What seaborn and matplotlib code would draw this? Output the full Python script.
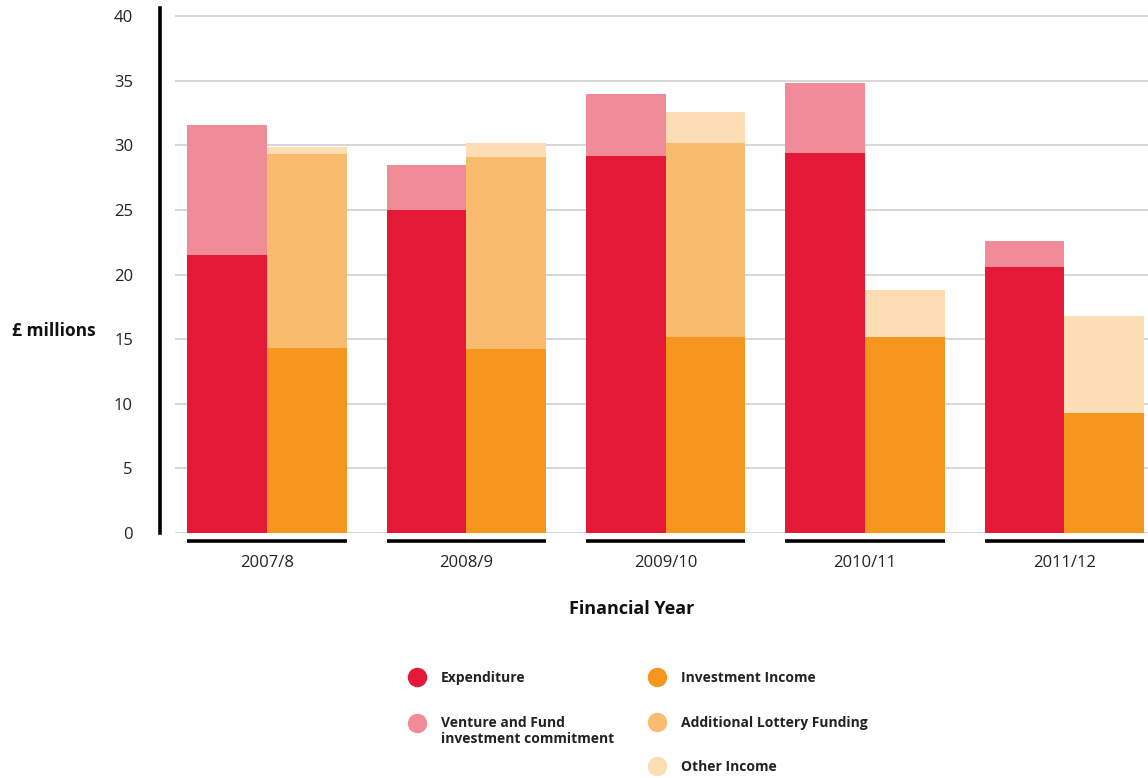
import matplotlib
matplotlib.use("Agg")
import matplotlib.pyplot as plt
import matplotlib.transforms as mtransforms
from matplotlib.lines import Line2D
import seaborn as sns
import pandas as pd

# ---- data ----
years = ["2007/8", "2008/9", "2009/10", "2010/11", "2011/12"]
expenditure = [21.5, 25.0, 29.2, 29.4, 20.6]
venture_commitment = [10.1, 3.5, 4.8, 5.4, 2.0]
investment_income = [14.3, 14.2, 15.2, 15.2, 9.3]
lottery_funding = [15.0, 14.9, 15.0, 0.0, 0.0]
other_income = [0.6, 1.1, 2.4, 3.6, 7.5]
y_ticks = [0, 5, 10, 15, 20, 25, 30, 35, 40]

# ---- colours ----
C_EXP = "#E31937"
C_VEN = "#F08C98"
C_INV = "#F7961E"
C_LOT = "#F9BC6E"
C_OTH = "#FCDDB4"

sns.set_theme(style="white")
plt.rcParams["font.family"] = ["Open Sans", "DejaVu Sans"]

fig = plt.figure(figsize=(11.48, 7.78), dpi=100)
ax = fig.add_axes([175 / 1148, (778 - 533) / 778, (1148 - 175) / 1148, (533 - 8) / 778])

sides = ["Spending", "Income"]


def layer(spend_vals, income_vals):
    rows = []
    for i, y in enumerate(years):
        rows.append({"year": y, "side": "Spending", "value": spend_vals[i]})
        rows.append({"year": y, "side": "Income", "value": income_vals[i]})
    return pd.DataFrame(rows)


spend_total = [e + v for e, v in zip(expenditure, venture_commitment)]
inc_mid = [a + b for a, b in zip(investment_income, lottery_funding)]
inc_total = [m + o for m, o in zip(inc_mid, other_income)]

layers = [
    (layer(spend_total, inc_total), {"Spending": C_VEN, "Income": C_OTH}),
    (layer(expenditure, inc_mid), {"Spending": C_EXP, "Income": C_LOT}),
    (layer([0.0] * len(years), investment_income), {"Spending": C_EXP, "Income": C_INV}),
]
for df, pal in layers:
    sns.barplot(data=df, x="year", y="value", hue="side", hue_order=sides,
                order=years, palette=pal, dodge=True, width=0.8, saturation=1,
                errorbar=None, legend=False, linewidth=0, ax=ax)

ax.set_ylim(0, 40.62)
ax.set_xlim(-0.4616, 4.42)
ax.set_yticks(y_ticks)
ax.set_yticklabels([str(t) for t in y_ticks])
ax.yaxis.grid(True, color="#d3d3d3", linewidth=1.3)
ax.xaxis.grid(False)
ax.set_axisbelow(True)

for s in ["top", "right", "bottom"]:
    ax.spines[s].set_visible(False)
ax.spines["left"].set_position(("outward", 10.8))
ax.spines["left"].set_color("black")
ax.spines["left"].set_linewidth(2.6)

ax.tick_params(axis="y", length=0, pad=19.5, labelsize=12, labelcolor="#222222")
ax.tick_params(axis="x", length=0, pad=16, labelsize=12, labelcolor="#222222")

# group underlines
for i in range(len(years)):
    ax.hlines(-0.6, i - 0.4, i + 0.4, color="black", linewidth=2.6, clip_on=False)

ax.set_ylabel("£ millions", rotation=0, ha="right", va="center",
              fontweight="bold", fontsize=12.5, color="#111111")
ax.yaxis.set_label_coords((96 - 175) / 973, (533 - 331) / 525)
ax.set_xlabel("Financial Year", fontweight="bold", fontsize=13, color="#111111")
ax.xaxis.label.set_va("center")
ax.xaxis.set_label_coords((632 - 175) / 973, -(609 - 533) / 525)

# legend
def handle(c, lab):
    return Line2D([], [], linestyle="none", marker="o", markersize=13,
                  markerfacecolor=c, markeredgecolor=c, label=lab)

common = dict(loc="upper left", frameon=False, handlelength=1.2,
              handletextpad=1.1, labelspacing=2.2, borderpad=0, borderaxespad=0,
              prop={"weight": "bold", "size": 10}, labelcolor="#222222")
leg1 = fig.legend(handles=[handle(C_EXP, "Expenditure"),
                           handle(C_VEN, "Venture and Fund\ninvestment commitment")],
                  bbox_to_anchor=(409 / 1148, 1 - 671 / 778), **common)
leg2 = fig.legend(handles=[handle(C_INV, "Investment Income"),
                           handle(C_LOT, "Additional Lottery Funding"),
                           handle(C_OTH, "Other Income")],
                  bbox_to_anchor=(649 / 1148, 1 - 671 / 778), **common)

# align the two-line entry's marker with its first text line
h2 = leg1.legend_handles[1]
h2.set_transform(h2.get_transform() + mtransforms.Affine2D().translate(0, 8))

fig.savefig("out.png", dpi=100)
